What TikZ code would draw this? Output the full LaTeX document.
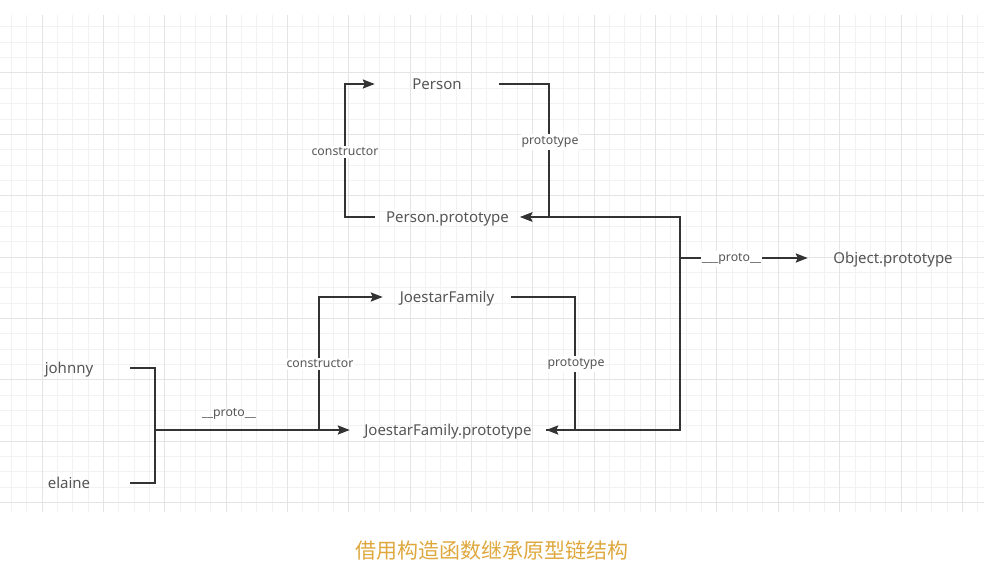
\documentclass[tikz,border=0pt]{standalone}
\usepackage{fontspec}
\setmainfont{Noto Sans}
\newfontfamily\cjk{Noto Sans CJK SC}
\usetikzlibrary{arrows.meta,positioning}
\definecolor{pcline}{RGB}{51,51,51}
\definecolor{pctext}{RGB}{85,85,85}
\definecolor{pcgold}{RGB}{222,168,62}
\definecolor{pcminor}{RGB}{242,242,242}
\definecolor{pcmajor}{RGB}{228,228,228}

\begin{document}
\begin{tikzpicture}[
    x=1pt,y=-1pt,
    obj/.style={text=pctext,font=\fontsize{15}{18}\selectfont,inner xsep=0pt,inner ysep=0pt,
      text height=11pt,text depth=0pt,align=center},
    lbl/.style={text=pctext,font=\fontsize{12.3}{14}\selectfont,fill=white,inner xsep=1pt,inner ysep=2pt},
    conn/.style={draw=pcline,line width=2.2pt},
    arrow/.style={conn,-{Stealth[length=12pt,width=9pt,inset=2pt]}}
  ]
    \useasboundingbox (0,0) rectangle (1001,577);
    % grid
    \foreach \i in {-2,...,61} \draw[pcminor,line width=1pt] (42+15.34*\i,15) -- (42+15.34*\i,512);
    \foreach \j in {-3,...,28} \draw[pcminor,line width=1pt] (0,73+15.34*\j) -- (984,73+15.34*\j);
    \foreach \i in {0,...,15} \draw[pcmajor,line width=1pt] (42+61.36*\i,15) -- (42+61.36*\i,512);
    \foreach \j in {0,...,7} \draw[pcmajor,line width=1pt] (0,73+61.36*\j) -- (984,73+61.36*\j);

    % objects
    \node[obj,minimum width=124pt] (person) at (437,84) {Person};
    \node[obj,minimum width=145pt] (personproto) at (447.5,217) {Person.prototype};
    \node[obj,minimum width=128pt] (joestar) at (447,297) {JoestarFamily};
    \node[obj,minimum width=196pt] (joestarproto) at (448,430) {JoestarFamily.prototype};
    \node[obj,minimum width=170pt] (objproto) at (893,258) {Object.prototype};
    \node[obj,minimum width=122pt] (johnny) at (69,368) {johnny};
    \node[obj,minimum width=122pt] (elaine) at (69,483) {elaine};

    \coordinate (fork) at (155,430);
    \coordinate (jcons) at (319,430);
    \coordinate (up) at (680,258);

    % Person
    \draw[arrow] (personproto.west) -- ++(-30,0) |- (person.west);
    \draw[arrow] (person.east) -- ++(50,0) |- (personproto.east);
    \node[lbl] (pcons) at (345,152) {constructor};
    \node[lbl] (pproto) at (550,142) {prototype};

    % JoestarFamily
    \draw[arrow] (jcons) |- (joestar.west);
    \draw[arrow] (joestar.east) -- ++(64,0) |- (joestarproto.east);
    \node[lbl] (jconslbl) at (320,364) {constructor};
    \node[lbl] (jproto) at (576,364) {prototype};

    % instances
    \draw[conn] (johnny.east) -- ++(25,0) |- (elaine.east);
    \draw[arrow] (fork) -- (joestarproto.west);
    \node[lbl,fill=none] (iproto) at (229,414) {\_\_proto\_\_};

    % chain up
    \draw[arrow] (joestarproto.east) -- ++(134,0) |- (personproto.east);
    \draw[arrow] (up) -- (objproto.west);
    \node[lbl] (oproto) at (731.5,259) {\_\_\_proto\_\_};

    \node[text=pcgold,font=\cjk\fontsize{21}{25}\selectfont] (caption) at (492,551) {借用构造函数继承原型链结构};
  \end{tikzpicture}
\end{document}
